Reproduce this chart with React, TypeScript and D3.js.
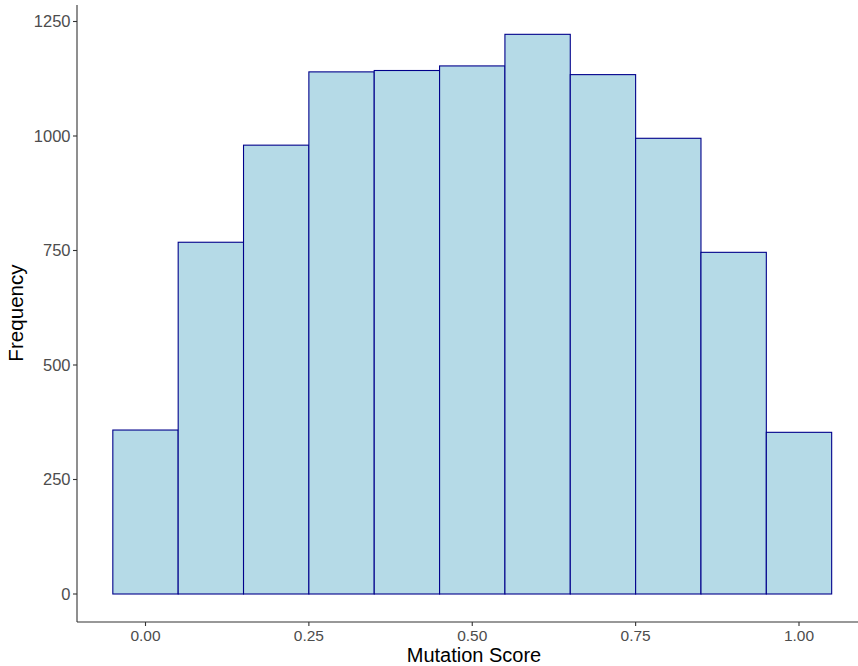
import React from "react";
import * as d3 from "d3";

const binStarts = [-0.05, 0.05, 0.15, 0.25, 0.35, 0.45, 0.55, 0.65, 0.75, 0.85, 0.95];
const binWidth = 0.1;
const counts = [358, 768, 980, 1140, 1143, 1153, 1222, 1134, 995, 746, 353];
const xTicks = [0, 0.25, 0.5, 0.75, 1.0];
const yTicks = [0, 250, 500, 750, 1000, 1250];

export default function App() {
  const W = 858, H = 666;
  const x = d3.scaleLinear().domain([0, 1]).range([145.5, 799]);
  const y = d3.scaleLinear().domain([0, 1250]).range([594, 21.5]);
  const axisX = 77;
  const axisY = 622;
  const font = "Liberation Sans, Arial, sans-serif";
  return (
    <svg width={W} height={H} style={{ position: "absolute", left: 0, top: 0 }} fontFamily={font}>
      <rect x={0} y={0} width={W} height={H} fill="white" />
      {binStarts.map((s, i) => (
        <rect
          key={i}
          x={x(s)}
          y={y(counts[i])}
          width={x(s + binWidth) - x(s)}
          height={y(0) - y(counts[i])}
          fill="#B5DAE7"
          stroke="#00008B"
          strokeWidth={1.1}
        />
      ))}
      <line x1={axisX} x2={axisX} y1={5} y2={axisY} stroke="#333" strokeWidth={1.1} />
      <line x1={axisX} x2={W} y1={axisY} y2={axisY} stroke="#333" strokeWidth={1.1} />
      {yTicks.map((t) => (
        <g key={t}>
          <line x1={axisX - 4} x2={axisX} y1={y(t)} y2={y(t)} stroke="#333" strokeWidth={1.1} />
          <text x={axisX - 6.5} y={y(t)} dy="0.36em" textAnchor="end" fontSize={16.5} fill="#4D4D4D">
            {t}
          </text>
        </g>
      ))}
      {xTicks.map((t) => (
        <g key={t}>
          <line x1={x(t)} x2={x(t)} y1={axisY} y2={axisY + 4} stroke="#333" strokeWidth={1.1} />
          <text x={x(t)} y={640.5} textAnchor="middle" fontSize={15.5} fill="#4D4D4D">
            {d3.format(".2f")(t)}
          </text>
        </g>
      ))}
      <text x={474} y={662} textAnchor="middle" fontSize={20} fill="black">
        Mutation Score
      </text>
      <text transform={`translate(23, 313) rotate(-90)`} textAnchor="middle" fontSize={20.6} fill="black">
        Frequency
      </text>
    </svg>
  );
}
